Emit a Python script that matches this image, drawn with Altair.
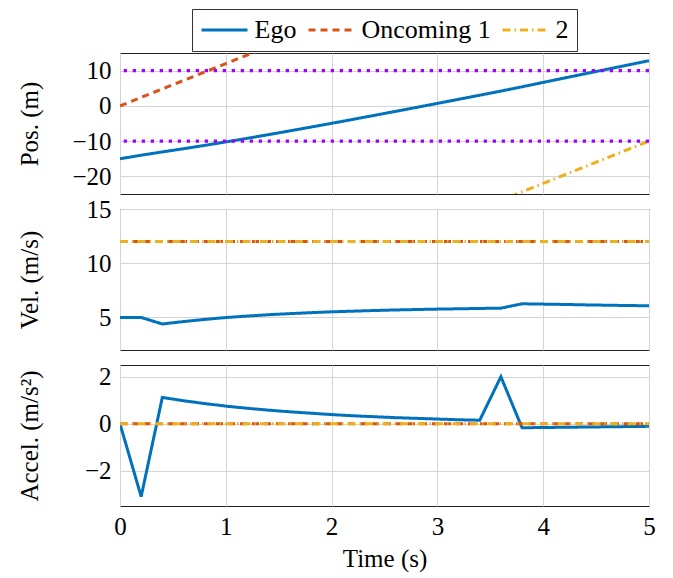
import altair as alt
import pandas as pd

# ---------------- data ----------------
time = [0.0, 0.2, 0.4, 0.6, 0.8, 1.0, 1.2, 1.4, 1.6, 1.8, 2.0, 2.2, 2.4,
        2.6, 2.8, 3.0, 3.2, 3.4, 3.6, 3.8, 4.0, 4.2, 4.4, 4.6, 4.8, 5.0]

ego_pos = [-15.0, -14.0, -13.06, -12.16, -11.21, -10.23, -9.22, -8.18, -7.12,
           -6.04, -4.95, -3.84, -2.71, -1.58, -0.44, 0.71, 1.86, 3.03, 4.19,
           5.41, 6.66, 7.90, 9.14, 10.37, 11.59, 12.81]
ego_vel = [5.0, 5.0, 4.4, 4.62, 4.82, 4.99, 5.13, 5.25, 5.35, 5.44, 5.52, 5.58,
           5.64, 5.69, 5.73, 5.77, 5.80, 5.83, 5.86, 6.26, 6.23, 6.20, 6.16,
           6.13, 6.10, 6.08]
ego_acc = [0.0, -3.1, 1.12, 0.98, 0.86, 0.75, 0.66, 0.58, 0.51, 0.45, 0.39,
           0.34, 0.30, 0.26, 0.23, 0.20, 0.17, 0.15, 2.0, -0.17, -0.16, -0.15,
           -0.14, -0.13, -0.12, -0.11]

onc_time = [0.0, 1.0, 2.0, 3.0, 4.0, 5.0]
onc1_pos = [0.0, 12.0, 24.0, 36.0, 48.0, 60.0]
onc2_pos = [-70.0, -58.0, -46.0, -34.0, -22.0, -10.0]
onc1_vel = [12.0, 12.0, 12.0, 12.0, 12.0, 12.0]
onc2_vel = [12.0, 12.0, 12.0, 12.0, 12.0, 12.0]
onc1_acc = [0.0, 0.0, 0.0, 0.0, 0.0, 0.0]
onc2_acc = [0.0, 0.0, 0.0, 0.0, 0.0, 0.0]

zone_bounds = [-10.0, 10.0]

series_names = ["Ego", "Oncoming 1", "2"]
series_colors = ["#0072BD", "#D95319", "#EDB120"]
series_dashes = [[1, 0], [7, 5], [8, 4, 1.5, 4]]

x_ticks = [0, 1, 2, 3, 4, 5]

FONT = "Times New Roman"
FS = 25


def make_df(ego, onc1, onc2):
    rows = []
    for t, v in zip(time, ego):
        rows.append({"t": t, "value": v, "series": "Ego"})
    for t, v in zip(onc_time, onc1):
        rows.append({"t": t, "value": v, "series": "Oncoming 1"})
    for t, v in zip(onc_time, onc2):
        rows.append({"t": t, "value": v, "series": "2"})
    return pd.DataFrame(rows)


legend = alt.Legend(
    title=None, orient="none", legendX=72, legendY=-44, direction="horizontal",
    symbolType="M-2,0H2", symbolSize=529, symbolStrokeWidth=3, symbolOffset=11.5,
    labelFont=FONT, labelFontSize=26, labelColor="black", labelOffset=17,
    columnPadding=5, strokeColor="#333333", padding=8, fillColor="white",
    labelLimit=300,
)

color = alt.Color("series:N", scale=alt.Scale(domain=series_names, range=series_colors),
                  legend=legend)
dash = alt.StrokeDash("series:N", scale=alt.Scale(domain=series_names, range=series_dashes),
                      legend=legend)


def panel(df, ydom, yticks, ytitle, show_x, bounds=None):
    if show_x:
        xaxis = alt.Axis(values=x_ticks, title="Time (s)", grid=True, ticks=False,
                         domain=False, labelPadding=8, labelFlush=False,
                         labelFont=FONT, labelFontSize=FS, labelColor="black",
                         titleFont=FONT, titleFontSize=FS, titleFontWeight="normal",
                         titleColor="black", titlePadding=7)
    else:
        xaxis = alt.Axis(values=x_ticks, labels=False, title=None, grid=True,
                         ticks=False, domain=False, minExtent=0, maxExtent=0)
    yaxis = alt.Axis(values=yticks, title=ytitle, grid=True, ticks=False, domain=False,
                     labelPadding=9, labelFont=FONT, labelFontSize=FS, labelColor="black",
                     titleFont=FONT, titleFontSize=FS, titleFontWeight="normal",
                     titleColor="black", titleX=-78)
    x = alt.X("t:Q", scale=alt.Scale(domain=[0, 5], nice=False), axis=xaxis)
    y = alt.Y("value:Q", scale=alt.Scale(domain=ydom, nice=False, zero=False), axis=yaxis)
    lines = alt.Chart(df).mark_line(clip=True, strokeWidth=3).encode(
        x=x, y=y, color=color, strokeDash=dash,
        order=alt.Order("t:Q"),
    )
    layers = [lines]
    if bounds is not None:
        rules = alt.Chart(pd.DataFrame({"value": bounds})).mark_rule(
            color="#a000ff", strokeDash=[3.3, 5.7], strokeWidth=3.3, clip=True
        ).encode(y=alt.Y("value:Q"))
        layers.append(rules)
    return alt.layer(*layers).properties(width=529, height=141)


p1 = panel(make_df(ego_pos, onc1_pos, onc2_pos), [-25, 15], [-20, -10, 0, 10],
           "Pos. (m)", False, zone_bounds)
p2 = panel(make_df(ego_vel, onc1_vel, onc2_vel), [2, 15], [5, 10, 15],
           "Vel. (m/s)", False)
p3 = panel(make_df(ego_acc, onc1_acc, onc2_acc), [-3.5, 2.5], [-2, 0, 2],
           "Accel. (m/s²)", True)

chart = alt.vconcat(p1, p2, p3, spacing=15, bounds="flush").properties(
    padding={"left": 8, "top": 0, "right": 5, "bottom": 0}
).configure_view(stroke="#222222", strokeWidth=1).configure_axis(
    gridColor="#d4d4d4", gridWidth=1
)

chart.save("out.html", embed_options={"renderer": "svg", "actions": False})
